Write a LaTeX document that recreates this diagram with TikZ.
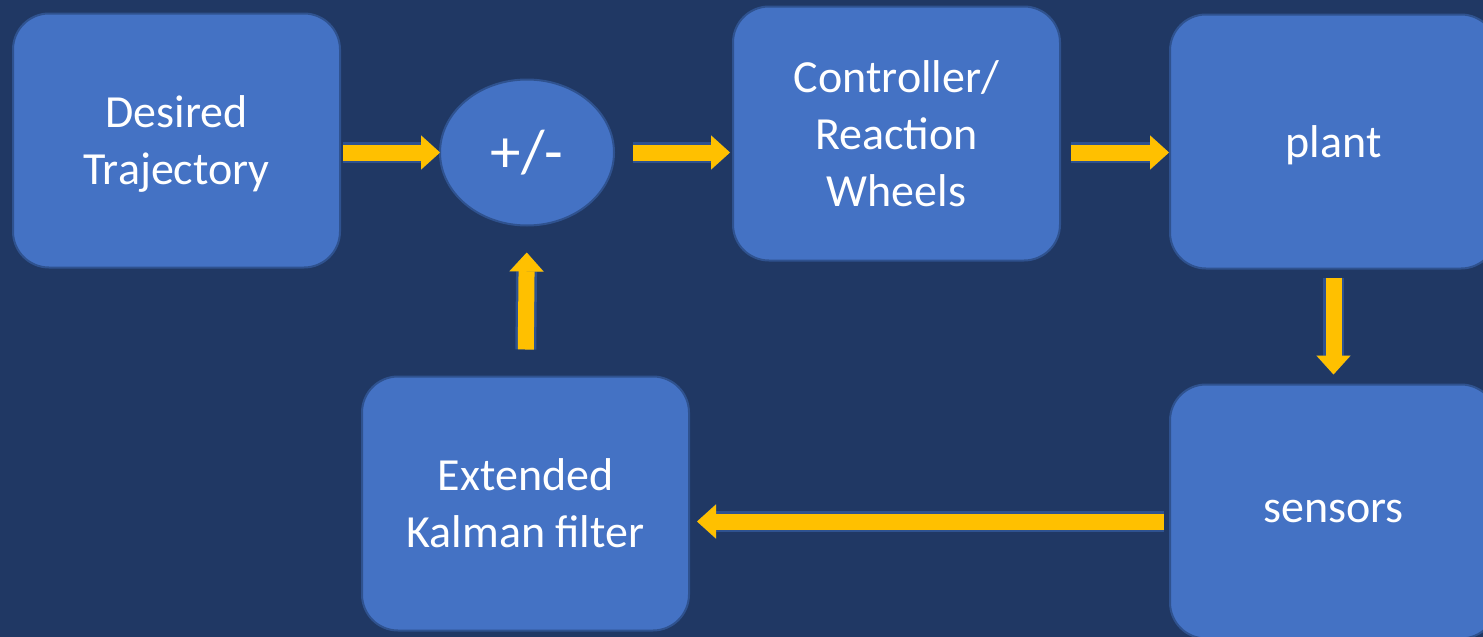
\documentclass[tikz,border=0pt]{standalone}
\usepackage{fontspec}
\setmainfont{Carlito}
\usetikzlibrary{arrows.meta,positioning,shapes.geometric}

\definecolor{slide}{HTML}{203864}
\definecolor{boxfill}{HTML}{4472C4}
\definecolor{boxedge}{HTML}{2F528F}
\definecolor{flowyellow}{HTML}{FFC000}

\tikzset{
	block/.style={draw=boxedge, line width=1pt, fill=boxfill, rounded corners=18pt, outer sep=0pt,
		minimum width=163.5pt, minimum height=127pt, text=white, align=center,
		font=\fontsize{23pt}{28.5pt}\selectfont},
	sum/.style={ellipse, draw=boxedge, line width=1pt, fill=boxfill, inner sep=0pt, outer sep=0pt,
		minimum width=87pt, minimum height=73pt, text=white,
		font=\fontsize{30.5pt}{36pt}\selectfont},
	flow/.style={draw=flowyellow, line width=8pt,
		-{Triangle[length=9.5pt,width=17pt,color=flowyellow,fill=flowyellow,line width=0.5pt]},
		preaction={draw=boxedge, line width=10.5pt,
			-{Triangle[length=9.5pt,width=17pt,color=boxedge,fill=flowyellow,line width=2.5pt]}}}
}

\begin{document}
\begin{tikzpicture}[x=0.5pt,y=-0.5pt]
	\clip (0,0) rectangle (1483,637);
	\fill[slide] (0,0) rectangle (1483,637);

					\node[block, text depth=0pt]   (des) at (176.5,140.5)      {Desired\\Trajectory};
					\node[sum]     (sum) [right=50pt of des, yshift=-6pt]       {+/-};
					\node[block]   (ctrl) [right=59.5pt of sum, yshift=9.5pt]   {Controller/\\Reaction\\Wheels};
					\node[block, text depth=0pt]   (plant) [right=55pt of ctrl, yshift=-4pt]    {plant};
					\node[block]   (sensors) [below=58pt of plant]               {sensors};
					\node[block]   (ekf) [left=240.5pt of sensors, yshift=4pt]   {Extended\\Kalman filter};

					\coordinate (tap) at ([yshift=-5pt]sensors.west);

					\draw (sum.west -| des.east) edge[flow, shorten <=1.5pt]      (sum.west)
						(sum.east) edge[flow, shorten <=9.5pt, shorten >=1.5pt]   (sum.east -| ctrl.west)
						(ctrl.east |- sum.east) edge[flow, shorten <=5.5pt, shorten >=0.5pt] (plant.west |- sum.east)
						(plant.south) edge[flow, shorten <=4.5pt, shorten >=5pt]  (sensors.north)
						(tap) edge[flow, shorten <=3pt, shorten >=4pt]            (tap -| ekf.east)
						(ekf.north) edge[flow, shorten <=13.5pt, shorten >=13.5pt] (sum.south);
				\end{tikzpicture}
\end{document}
